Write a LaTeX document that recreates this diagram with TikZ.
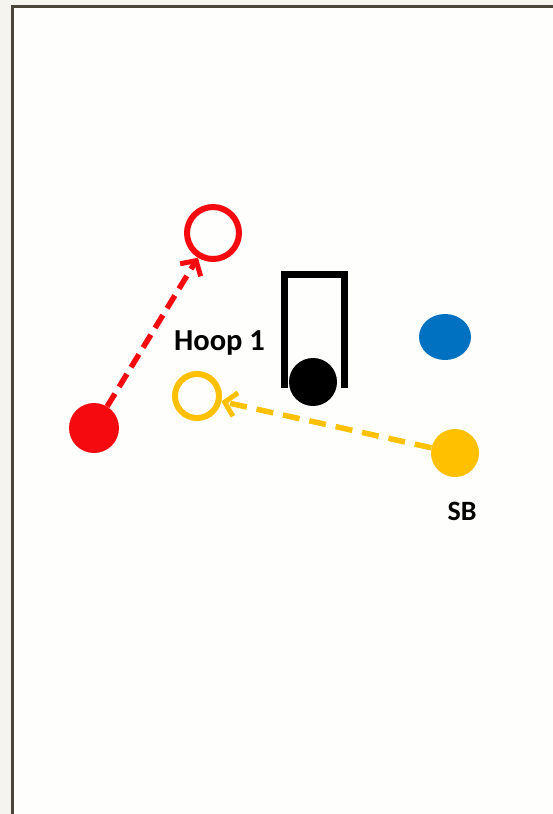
\documentclass[tikz,border=0pt]{standalone}
\usepackage{fontspec}
\setmainfont{Carlito}
\usetikzlibrary{arrows.meta,shapes.geometric}
\definecolor{pagebg}{HTML}{F6F4EE}
\definecolor{fieldbg}{HTML}{FEFEFC}
\definecolor{framec}{HTML}{4A473A}
\definecolor{redp}{HTML}{F50A0F}
\definecolor{yellowp}{HTML}{FFC000}
\definecolor{bluep}{HTML}{0070C0}
\tikzset{
  x=1pt, y=-1pt,
  player/.style={circle, fill=#1, inner sep=0pt, minimum size=50pt},
  target/.style={circle, draw=#1, line width=6pt, inner sep=0pt, minimum size=50pt},
  move/.style={draw=#1, line width=5.5pt, dash pattern=on 15pt off 8pt,
    -{Straight Barb[length=11pt, width=24pt, line width=5pt]}},
  label/.style={font=\bfseries\fontsize{28}{30}\selectfont, inner sep=0pt}
}
\begin{document}
\begin{tikzpicture}
\useasboundingbox (0,0) rectangle (553,814);
\fill[pagebg] (0,0) rectangle (553,814);
\fill[fieldbg] (13,7) rectangle (553,814);
% field border (left and top edges visible)
\draw[framec, line width=3pt] (12.5,820) -- (12.5,6.5) -- (560,6.5);

% hoop frame
\draw[line width=7pt, line cap=butt] (284.5,388) -- (284.5,274.5) -- (344.5,274.5) -- (344.5,388);
\node[player=black, minimum size=48pt] (ball) at (313,382) {};

% players
\node[player=redp] (red) at (94,428) {};
\node[target=redp, minimum size=52pt] (redto) at (213,233) {};
\node[target=yellowp, minimum size=44pt] (yelto) at (197,396) {};
\node[player=yellowp, minimum size=48pt] (sb) at (455,453) {};
\node[ellipse, fill=bluep, inner sep=0pt, minimum width=52pt, minimum height=46pt] (blue) at (445,337) {};

% movements
\draw[move=redp] (red) -- (redto);
\draw[move=yellowp, dash pattern=on 17pt off 10pt] (sb) -- (yelto);

% labels
\node[label, font=\bfseries\fontsize{30.5}{32}\selectfont] (hoop) at (219.5,343) {Hoop 1};
\node[label] (sblabel) at (462,511) {SB};
\end{tikzpicture}
\end{document}
